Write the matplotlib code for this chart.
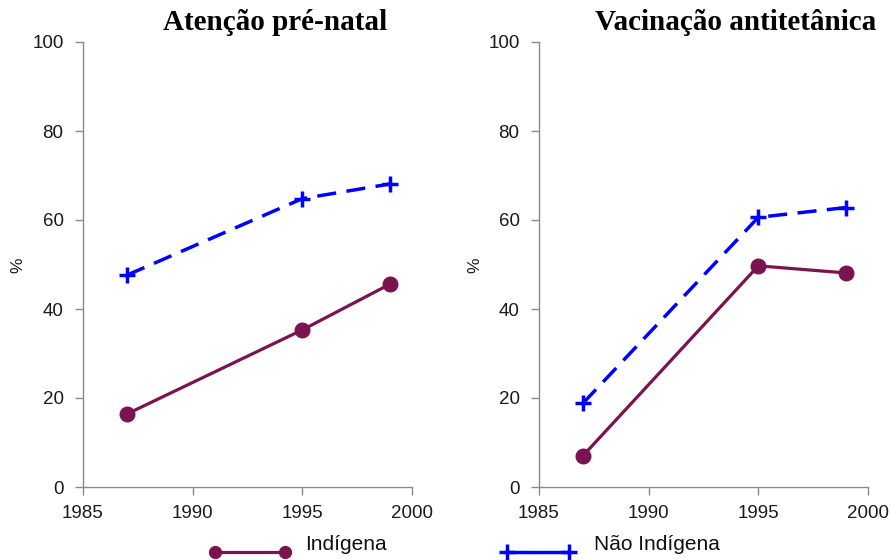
import matplotlib
matplotlib.use("Agg")
import matplotlib.pyplot as plt
from matplotlib.lines import Line2D

years = [1987, 1995, 1999]
titles = ["Atenção pré-natal", "Vacinação antitetânica"]
indigena = {
    "Atenção pré-natal": [16.4, 35.3, 45.6],
    "Vacinação antitetânica": [7.0, 49.7, 48.1],
}
nao_indigena = {
    "Atenção pré-natal": [47.6, 64.8, 68.1],
    "Vacinação antitetânica": [18.8, 60.6, 62.8],
}
xticks = [1985, 1990, 1995, 2000]
yticks = [0, 20, 40, 60, 80, 100]
legend_labels = ["Indígena", "Não Indígena"]

MAROON = "#7a1350"
BLUE = "#0000ff"
GRAY = "#8a8a8a"

plt.rcParams['font.family'] = ['Liberation Sans', 'DejaVu Sans']

W, H = 891, 560
fig = plt.figure(figsize=(W / 100, H / 100), dpi=100)

axes_px = [(83, 412), (539, 868)]
top_px, bot_px = 42, 487
title_cx = [275, 736]
ylab_x = [18, 475]

for i, t in enumerate(titles):
    x0, x1 = axes_px[i]
    ax = fig.add_axes([x0 / W, 1 - bot_px / H, (x1 - x0) / W, (bot_px - top_px) / H])
    ax.set_xlim(1985, 2000)
    ax.set_ylim(0, 100)
    ax.set_xticks(xticks)
    ax.set_yticks(yticks)
    for s in ["top", "right"]:
        ax.spines[s].set_visible(False)
    for s in ["left", "bottom"]:
        ax.spines[s].set_color(GRAY)
        ax.spines[s].set_linewidth(1.0)
    ax.tick_params(direction="out", length=6, width=1.0, color=GRAY,
                   labelsize=13.5, labelcolor="#1a1a1a")
    ax.tick_params(axis="x", pad=7)
    ax.tick_params(axis="y", pad=8)
    ax.plot(years, indigena[t], color=MAROON, lw=2.3, marker="o", ms=10.5,
            mec=MAROON, mfc=MAROON, clip_on=False, zorder=3)
    ax.plot(years, nao_indigena[t], color=BLUE, lw=2.5, dashes=(5.5, 3),
            marker="+", ms=11, mew=2.5, clip_on=False, zorder=4)
    fig.text(title_cx[i] / W, 1 - 22 / H, t, ha="center", va="center",
             fontsize=21, fontweight="bold", family="Liberation Serif")
    fig.text(ylab_x[i] / W, 1 - 265 / H, "%", rotation=90, ha="center",
             va="center", fontsize=12.5, color="#1a1a1a")

# legend
leg = [
    (215, 285, 305, legend_labels[0], dict(color=MAROON, lw=2.3, marker="o", ms=8.5, mfc=MAROON, mec=MAROON)),
    (507, 569, 594, legend_labels[1], dict(color=BLUE, lw=2.5, marker="+", ms=12, mew=2.5)),
]
for xa, xb, xt, lab, kw in leg:
    ln = Line2D([xa / W, xb / W], [1 - 552 / H, 1 - 552 / H], transform=fig.transFigure, **kw)
    fig.add_artist(ln)
    fig.text(xt / W, 1 - 544 / H, lab, ha="left", va="center", fontsize=15, color="#111111")

fig.savefig("out.png", dpi=100)
